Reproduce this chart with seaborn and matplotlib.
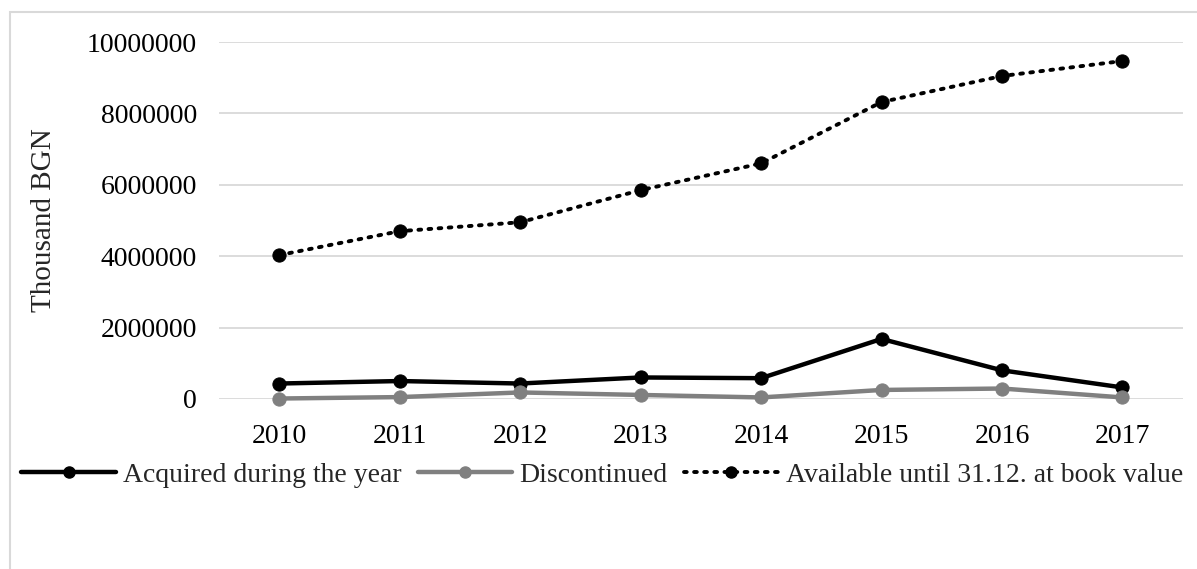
"""
Fixed assets by year: acquired, discontinued and book value (thousand BGN).
"""

import seaborn as sns
import matplotlib.pyplot as plt
from matplotlib.patches import Rectangle
from matplotlib.ticker import FuncFormatter
from matplotlib.lines import Line2D

# Data
years = [2010, 2011, 2012, 2013, 2014, 2015, 2016, 2017]
acquired = [430000, 500000, 430000, 600000, 580000, 1680000, 800000, 320000]
discontinued = [10000, 50000, 180000, 110000, 40000, 250000, 290000, 40000]
available = [4030000, 4700000, 4950000, 5850000, 6600000, 8320000, 9050000, 9470000]
labels = ['Acquired during the year', 'Discontinued', 'Available until 31.12. at book value']

sns.set_style('white')
plt.rcParams['font.family'] = ['Liberation Serif', 'DejaVu Serif']
FS = 20

fig = plt.figure(figsize=(11.97, 5.69), dpi=100)
ax = fig.add_axes([0.183, 0.299, 0.805, 0.627])

# outer chart frame (light gray, cut at right/bottom)
fig.patches.append(Rectangle((10 / 1197, -0.1), 1.2, 1 - 12 / 569 + 0.1,
                             transform=fig.transFigure, fill=False,
                             edgecolor='#d9d9d9', linewidth=1.5))

dots = (0, (0.7, 1.9))
sns.lineplot(x=years, y=acquired, ax=ax, color='black', linewidth=3.2,
             marker='o', markersize=9.5, markeredgecolor='black', clip_on=False)
sns.lineplot(x=years, y=discontinued, ax=ax, color='#808080', linewidth=3.2,
             marker='o', markersize=9.5, markeredgecolor='#808080', clip_on=False)
sns.lineplot(x=years, y=available, ax=ax, color='black', linewidth=2.8,
             linestyle=dots, dash_capstyle='round',
             marker='o', markersize=9.5, markeredgecolor='black', clip_on=False)

ax.set_xlim(2009.5, 2017.5)
ax.set_ylim(0, 10000000)
ax.set_xticks(years)
ax.set_yticks(range(0, 10000001, 2000000))
ax.yaxis.set_major_formatter(FuncFormatter(lambda v, p: f'{int(v)}'))
ax.grid(True, axis='y', color='#d9d9d9', linewidth=1.3)
ax.set_axisbelow(True)
for s in ax.spines.values():
    s.set_visible(False)
ax.tick_params(axis='both', length=0, labelsize=FS, colors='black')
ax.tick_params(axis='y', pad=16)
ax.tick_params(axis='x', pad=18)

ax.set_ylabel('Thousand BGN', fontsize=FS + 1)
ax.yaxis.set_label_coords(-0.168, 0.5)

handles = [
    Line2D([], [], color='black', linewidth=3.2, marker='o', markersize=8),
    Line2D([], [], color='#808080', linewidth=3.2, marker='o', markersize=8),
    Line2D([], [], color='black', linewidth=2.8, linestyle=dots,
           dash_capstyle='round', marker='o', markersize=8),
]
fig.legend(handles, labels, loc='center', bbox_to_anchor=(0.503, 0.165),
           ncol=3, frameon=False, fontsize=FS, handlelength=3.4,
           handletextpad=0.25, columnspacing=0.6)

plt.savefig('out.png', dpi=100)
plt.close()
